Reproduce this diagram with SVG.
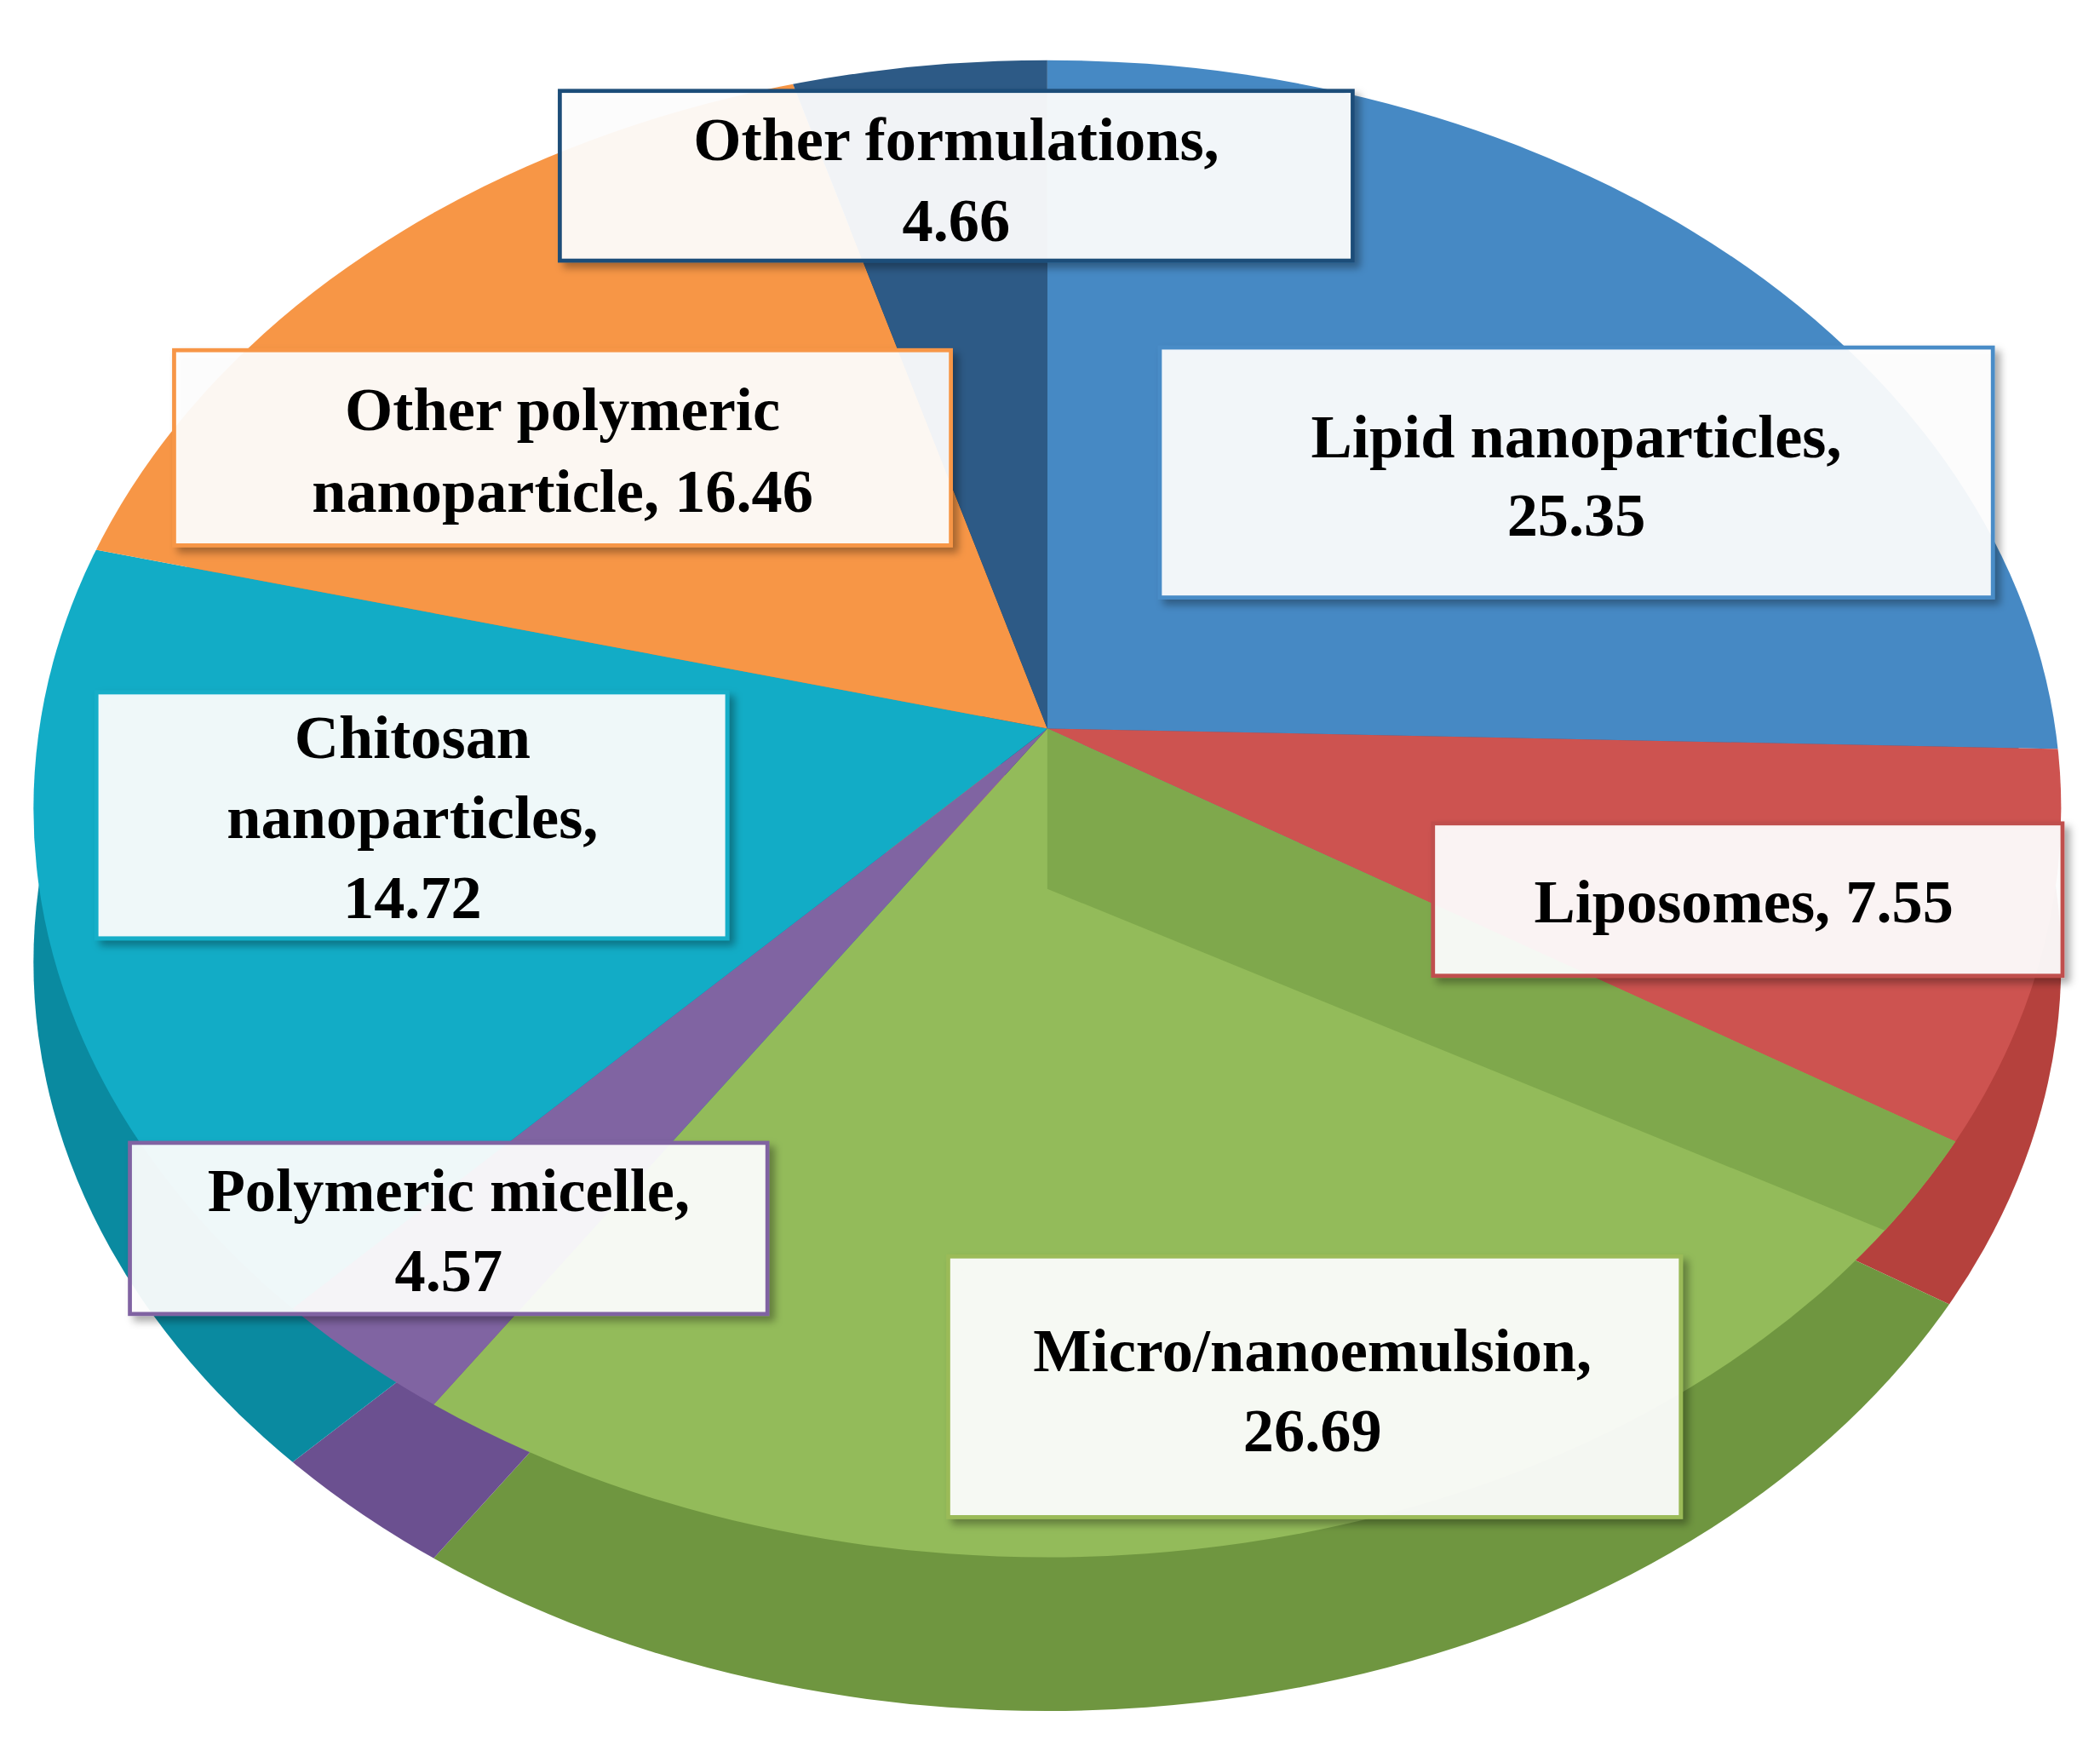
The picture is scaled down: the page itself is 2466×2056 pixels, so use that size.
<svg xmlns="http://www.w3.org/2000/svg" width="2466" height="2056" viewBox="0 0 2466 2056">
<defs>
<clipPath id="top"><ellipse cx="782" cy="605" rx="757" ry="560"/></clipPath>
<clipPath id="bot"><ellipse cx="782" cy="720" rx="757" ry="560"/></clipPath>
<filter id="sh" x="-10%" y="-10%" width="130%" height="130%"><feDropShadow dx="4" dy="4" stdDeviation="3" flood-opacity="0.35"/></filter>
<style>
.box{fill:#ffffff;fill-opacity:0.92;stroke-width:3;filter:url(#sh)}
.t{font-family:"Liberation Serif",serif;font-weight:bold;font-size:46px;fill:#000;text-anchor:middle}
</style>
</defs>
<rect width="2466" height="2056" fill="#ffffff"/>
<g transform="scale(1.5727,1.5695)">
<g id="pie-sides" clip-path="url(#bot)">
<polygon points="782,660 782,-600 3000,-600 3000,675" fill="#2e6aa0"/>
<polygon points="782,660 3000,675 3000,1700" fill="#b5413d"/>
<polygon points="782,660 3000,1700 -604,2190" fill="#6f9640"/>
<polygon points="782,660 -604,2190 -1069,2085" fill="#6b5090"/>
<polygon points="782,660 -1069,2085 -1369,255" fill="#0a8aa0"/>
<polygon points="782,660 -1369,255 191,-840 " fill="#d97f30"/>
<polygon points="782,660 191,-840 782,-600" fill="#1f4668"/>
</g>
<g id="pie-top" clip-path="url(#top)">
<polygon points="782,545 782,-600 3000,-600 3000,590" fill="#4689c4"/>
<polygon points="782,545 3000,590 3000,1556" fill="#cd5350"/>
<polygon points="782,545 3000,1556 -604,2075" fill="#93bb5a"/>
<polygon points="782,545 -604,2075 -1069,1970" fill="#8064a2"/>
<polygon points="782,545 -1069,1970 -1369,140" fill="#12acc6"/>
<polygon points="782,545 -1369,140 191,-955" fill="#f79646"/>
<polygon points="782,545 191,-955 782,-600" fill="#2d5a86"/>
<polygon points="782,545 782,665 1455,940 1600,920 1460,854" fill="#7fa84c"/>
</g>
<g id="n-other-form"><rect class="box" x="418" y="68" width="592" height="127" stroke="#1f4e79"/>
<text class="t" x="714" y="120">Other formulations,</text><text class="t" x="714" y="180">4.66</text></g>
<g id="n-lipid"><rect class="box" x="866" y="260" width="622" height="187" stroke="#4a8cc7"/>
<text class="t" x="1177" y="342">Lipid nanoparticles,</text><text class="t" x="1177" y="401">25.35</text></g>
<g id="n-other-poly"><rect class="box" x="130" y="262" width="580" height="146" stroke="#f79646"/>
<text class="t" x="420" y="322">Other polymeric</text><text class="t" x="420" y="383">nanoparticle, 16.46</text></g>
<g id="n-chitosan"><rect class="box" x="72" y="518" width="471" height="184" stroke="#13aec8"/>
<text class="t" x="308" y="567">Chitosan</text><text class="t" x="308" y="627">nanoparticles,</text><text class="t" x="308" y="687">14.72</text></g>
<g id="n-liposomes"><rect class="box" x="1070" y="616" width="470" height="114" stroke="#c0504d"/>
<text class="t" x="1302" y="690">Liposomes, 7.55</text></g>
<g id="n-micelle"><rect class="box" x="97" y="855" width="476" height="128" stroke="#8064a2"/>
<text class="t" x="335" y="906">Polymeric micelle,</text><text class="t" x="335" y="966">4.57</text></g>
<g id="n-micro"><rect class="box" x="708" y="940" width="547" height="195" stroke="#9bbb59"/>
<text class="t" x="980" y="1026">Micro/nanoemulsion,</text><text class="t" x="980" y="1086">26.69</text></g>
<g id="connectors"/>
</g>
</svg>
